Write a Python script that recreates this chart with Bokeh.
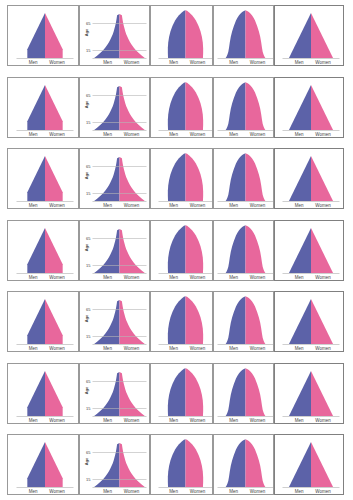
from bokeh.plotting import figure
from bokeh.layouts import row, column
from bokeh.models import Spacer, FixedTicker, ColumnDataSource
from bokeh.embed import file_html
from bokeh.resources import INLINE

# ---------------- data ----------------
sex_labels = ["Men", "Women"]
age_ticks = [15, 65]
age_label = "Age"

# panel A: pyramid with straight sides above a flat base
ages_a = [0, 17, 84]
share_a = [3.1, 3.1, 0.0]

# panel B: concave (expansive) pyramid
ages_b = [0, 5, 10, 15, 20, 25, 30, 35, 40, 45, 50, 55, 60, 65, 70, 75, 80, 82]
share_b = [4.55, 3.93, 3.38, 2.91, 2.51, 2.16, 1.85, 1.60, 1.38, 1.18, 1.02,
           0.89, 0.76, 0.65, 0.56, 0.49, 0.42, 0.0]

# panel C: dome
ages_c = [0, 10, 20, 30, 40, 50, 60, 70, 75, 80, 85, 88, 89]
share_c = [3.05, 3.09, 3.09, 3.02, 2.87, 2.64, 2.29, 1.82, 1.53, 1.15, 0.65, 0.27, 0.0]

# panel D: bell
ages_d = [0, 3, 7, 12, 20, 30, 40, 50, 60, 70, 75, 80, 84, 87, 89]
share_d = [3.55, 3.36, 3.18, 3.02, 2.89, 2.75, 2.58, 2.35, 2.04, 1.67, 1.44,
           1.13, 0.78, 0.45, 0.0]

# panel E: triangle
ages_e = [0, 84]
share_e = [3.91, 0.0]

n_rows = 7

# ---------------- style ----------------
BLUE = "#5c62a8"
PINK = "#e8679c"
FONT = "Liberation Sans"
PX_PER_UNIT = 5.5
LABEL_OFFSET = 2.1


def panel(ages, share, outer_w, left, frame_w, show_age=False, border="1px solid #999999"):
    half = frame_w / (2 * PX_PER_UNIT)
    inner_w = outer_w - 2
    p = figure(width=outer_w, height=61, x_range=(-half, half), y_range=(0, 96),
               output_backend="svg", toolbar_location=None,
               min_border_left=left, min_border_right=inner_w - left - frame_w,
               min_border_top=0, min_border_bottom=8,
               y_axis_location="left" if show_age else None,
               styles={"border": border})
    p.outline_line_color = None
    p.background_fill_color = "white"
    p.border_fill_color = "white"

    src = ColumnDataSource(dict(y=ages, men=[-v for v in share], women=share,
                                zero=[0.0] * len(ages)))
    p.harea(x1="men", x2="zero", y="y", source=src, fill_color=BLUE)
    p.harea(x1="zero", x2="women", y="y", source=src, fill_color=PINK)

    ax = p.xaxis[0]
    ax.ticker = FixedTicker(ticks=[-LABEL_OFFSET, LABEL_OFFSET])
    ax.major_label_overrides = {-LABEL_OFFSET: sex_labels[0], LABEL_OFFSET: sex_labels[1]}
    ax.axis_line_color = "#cfcfcf"
    ax.axis_line_width = 1
    ax.major_tick_line_color = None
    ax.minor_tick_line_color = None
    ax.major_tick_out = 0
    ax.major_tick_in = 0
    ax.major_label_standoff = 1
    ax.major_label_text_font_size = "4.5px"
    ax.major_label_text_font = FONT
    ax.major_label_text_color = "#444444"
    p.xgrid.visible = False

    if show_age:
        ya = p.yaxis[0]
        ya.ticker = FixedTicker(ticks=age_ticks)
        ya.axis_line_color = None
        ya.major_tick_line_color = None
        ya.minor_tick_line_color = None
        ya.major_tick_out = 0
        ya.major_tick_in = 0
        ya.major_label_standoff = 2
        ya.major_label_text_font_size = "4px"
        ya.major_label_text_font = FONT
        ya.major_label_text_color = "#444444"
        ya.axis_label = age_label
        ya.axis_label_text_font_size = "4px"
        ya.axis_label_text_font = FONT
        ya.axis_label_text_font_style = "bold"
        ya.axis_label_text_color = "#444444"
        ya.axis_label_standoff = -6
        p.ygrid.grid_line_color = "#b5b5b5"
        p.ygrid.grid_line_alpha = 0.6
        p.ygrid.level = "overlay"
    else:
        p.ygrid.visible = False
    return p


rows = []
for i in range(n_rows):
    r = row(
        panel(ages_a, share_a, 72, 8, 55),
        panel(ages_b, share_b, 71, 12, 52, show_age=True),
        panel(ages_c, share_c, 63, 7, 52),
        panel(ages_d, share_d, 61, 3, 54),
        panel(ages_e, share_e, 70, 7, 55, border="1px solid #808080"),
        spacing=0,
    )
    rows.append(r)
    if i < n_rows - 1:
        rows.append(Spacer(width=10, height=11 if i % 2 == 0 else 10))

layout = column(*rows, spacing=0, margin=(5, 0, 0, 7))

open("out.html", "w").write(file_html(layout, INLINE))
